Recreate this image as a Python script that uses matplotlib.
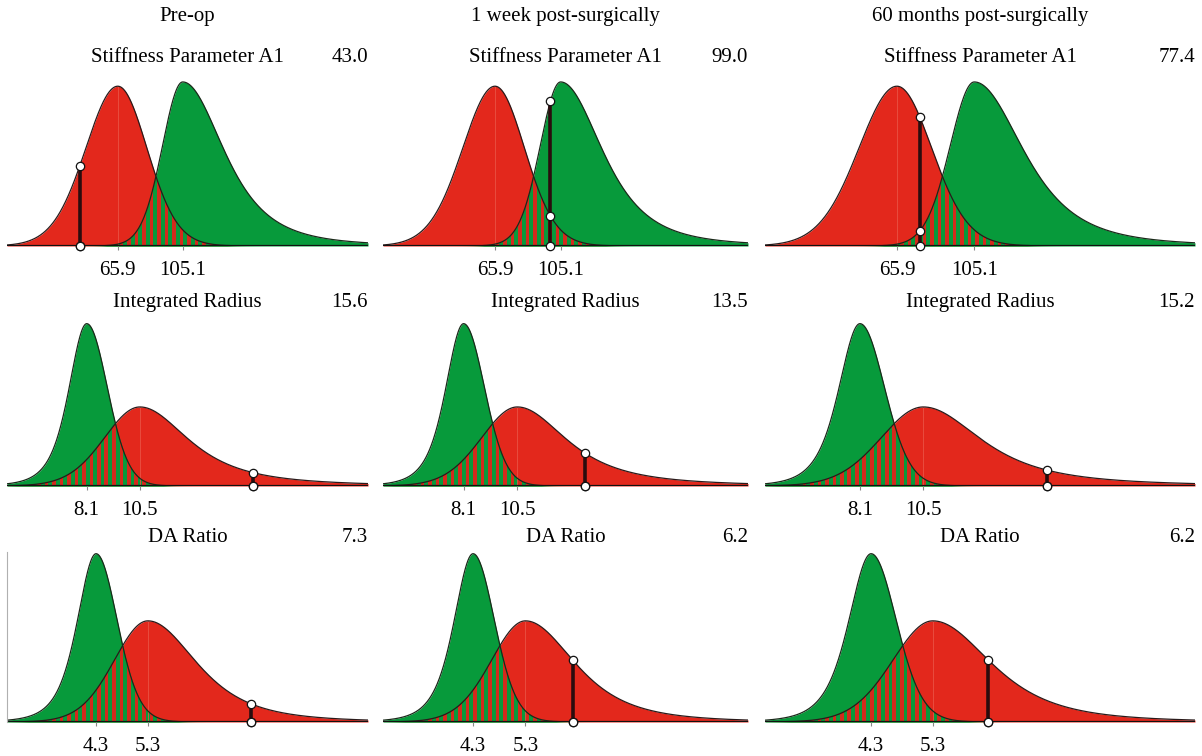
import numpy as np
import matplotlib.pyplot as plt

# ---- data ----
columns = ["Pre-op", "1 week post-surgically", "60 months post-surgically"]
params = ["Stiffness Parameter A1", "Integrated Radius", "DA Ratio"]

# x range shown in each row
x_ranges = [(-1.0, 217.0), (4.5, 20.8), (2.58, 9.55)]

# modes of the two reference curves (also the tick labels)
red_modes = [65.9, 10.5, 5.3]
green_modes = [105.1, 8.1, 4.3]

# half width at half maximum, left / right side of the mode
red_hw_left = [23.0, 1.9, 0.77]
red_hw_right = [21.0, 2.6, 1.1]
green_hw_left = [14.5, 0.95, 0.43]
green_hw_right = [29.0, 1.1, 0.48]

# tail heaviness (t-like degrees of freedom), left / right
red_tail_left = [30, 30, 30]
red_tail_right = [30, 2, 3]
green_tail_left = [30, 4, 4]
green_tail_right = [3, 30, 20]

# peak heights (fraction of panel height)
red_peaks = [0.94, 0.465, 0.595]
green_peaks = [0.965, 0.955, 0.99]

# patient values, row x column
values = [[43.0, 99.0, 77.4],
          [15.6, 13.5, 15.2],
          [7.3, 6.2, 6.2]]

# ---- style / layout ----
RED = "#e3281c"
GREEN = "#079a3b"
W, H = 1202, 756
col_px = [(7, 368), (383, 748), (765, 1195)]
row_base = [246, 486, 722]
row_title_y = [57, 302, 537]
panel_h = 170
FONT = "Liberation Serif"
FS = 15


def curve(x, mode, hl, hr, nl, nr, peak):
    left = x < mode
    hw = np.where(left, hl, hr)
    nu = np.where(left, nl, nr).astype(float)
    s = hw / np.sqrt(nu * (2 ** (2 / (nu + 1)) - 1))
    z = (x - mode) / s
    return peak * (1 + z ** 2 / nu) ** (-(nu + 1) / 2)


def fx(px):
    return px / W


def fy(py):
    return 1 - py / H


fig = plt.figure(figsize=(W / 100, H / 100), dpi=100)

for c, name in enumerate(columns):
    x0, x1 = col_px[c]
    fig.text(fx((x0 + x1) / 2), fy(16), name, ha="center", va="center",
             fontsize=FS, family=FONT)

for r in range(3):
    lo, hi = x_ranges[r]
    for c in range(3):
        x0, x1 = col_px[c]
        ax = fig.add_axes([fx(x0), fy(row_base[r]), (x1 - x0) / W, panel_h / H])
        xs = np.linspace(lo, hi, 1200)
        red = curve(xs, red_modes[r], red_hw_left[r], red_hw_right[r],
                    red_tail_left[r], red_tail_right[r], red_peaks[r])
        green = curve(xs, green_modes[r], green_hw_left[r], green_hw_right[r],
                      green_tail_left[r], green_tail_right[r], green_peaks[r])

        ax.fill_between(xs, red, color=RED, lw=0)
        ax.fill_between(xs, green, color=GREEN, lw=0)

        # striped overlap
        both = np.minimum(red, green)
        poly = ax.fill_between(xs, both, color=GREEN, lw=0)
        period = (hi - lo) * 7.5 / (x1 - x0)
        sx = np.arange(lo, hi, period)
        bars = ax.bar(sx, np.ones_like(sx), width=period * 0.5, align="edge",
                      color="#d42a1c", lw=0)
        clip = poly.get_paths()[0]
        for b in bars:
            b.set_clip_path(clip, ax.transData)

        # faint mode line in the red curve
        ax.plot([red_modes[r]] * 2, [0, red_peaks[r]], color="#ea5244", lw=0.6)

        ax.plot(xs, red, color="#2a1a1a", lw=0.9)
        ax.plot(xs, green, color="#1a2a1a", lw=0.9)
        ax.axhline(0, color="#111111", lw=1.6)

        # patient marker
        v = values[r][c]
        rv = curve(np.array([v]), red_modes[r], red_hw_left[r], red_hw_right[r],
                   red_tail_left[r], red_tail_right[r], red_peaks[r])[0]
        gv = curve(np.array([v]), green_modes[r], green_hw_left[r], green_hw_right[r],
                   green_tail_left[r], green_tail_right[r], green_peaks[r])[0]
        ax.plot([v, v], [0, max(rv, gv)], color="#2a0c0e", lw=2.6,
                solid_capstyle="butt")
        ax.plot([v, v, v], [0, rv, gv], "o", mfc="white", mec="#111111",
                ms=6, mew=0.9, clip_on=False, zorder=5)

        ax.set_xlim(lo, hi)
        ax.set_ylim(0, 1)
        ticks = sorted([green_modes[r], red_modes[r]])
        ax.set_xticks(ticks)
        ax.set_xticklabels([f"{t:.1f}" for t in ticks], family=FONT, fontsize=FS)
        ax.tick_params(axis="x", length=3, color="#888888", pad=8)
        ax.set_yticks([])
        for sp in ax.spines.values():
            sp.set_visible(False)
        if r == 2 and c == 0:
            ax.spines["left"].set_visible(True)
            ax.spines["left"].set_color("#b0b0b0")
            ax.spines["left"].set_linewidth(0.8)

        fig.text(fx((x0 + x1) / 2), fy(row_title_y[r]), params[r], ha="center",
                 va="center", fontsize=FS, family=FONT)
        fig.text(fx(x1), fy(row_title_y[r]), f"{v:.1f}", ha="right",
                 va="center", fontsize=FS, family=FONT)

fig.savefig("out.png", dpi=100)
